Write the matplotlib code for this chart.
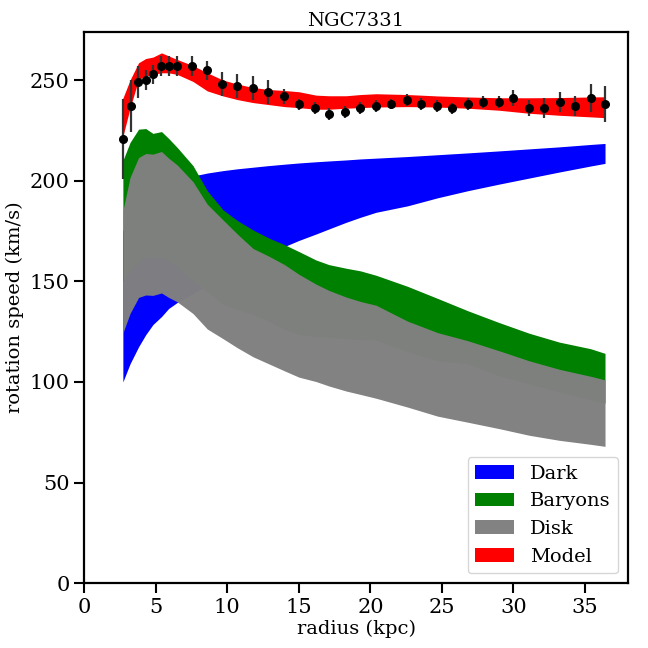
import matplotlib; matplotlib.use("Agg")
import matplotlib.pyplot as plt
import numpy as np

# observed rotation curve
r_obs = [2.74, 3.26, 3.79, 4.31, 4.84, 5.38, 5.94, 6.45, 7.56, 8.61, 9.66, 10.71,
         11.80, 12.87, 13.99, 15.04, 16.15, 17.13, 18.25, 19.27, 20.39, 21.46,
         22.58, 23.53, 24.67, 25.72, 26.84, 27.88, 29.0, 29.98, 31.1, 32.12,
         33.24, 34.31, 35.41, 36.40]
v_obs = [220.6, 237.0, 249.0, 250.0, 252.8, 256.9, 256.9, 256.9, 256.9, 254.8,
         247.9, 247.0, 245.9, 243.9, 241.9, 237.9, 236.0, 233.0, 234.2, 236.1,
         237.0, 238.1, 240.1, 238.1, 237.0, 236.0, 238.1, 239.1, 239.1, 241.1,
         236.0, 236.0, 239.1, 237.0, 241.1, 238.1]
v_err = [19.8, 13.0, 7.8, 4.8, 4.8, 5.0, 5.0, 5.0, 5.0, 4.7, 5.9, 5.8, 5.9, 5.9,
         3.8, 2.7, 3.0, 3.0, 3.1, 2.9, 2.9, 2.5, 3.0, 2.9, 2.9, 2.7, 2.9, 3.1,
         3.1, 4.0, 4.1, 5.1, 4.9, 5.1, 6.9, 9.1]

# model bands (lower / upper)
r_band = [2.7, 3.2, 3.8, 4.3, 4.8, 5.4, 5.9, 6.5, 7.6, 8.6, 9.7, 10.7, 11.8, 12.9,
          14.0, 15.0, 16.2, 17.1, 18.3, 19.3, 20.4, 22.6, 24.7, 26.8, 29.0, 31.1,
          33.2, 35.4, 36.4]
dark_lo = [100, 109, 117.5, 123.5, 128.5, 132.5, 136.5, 139.5, 144, 148, 152, 156,
           160, 163.5, 167.3, 170.3, 173.5, 176, 179.3, 181.8, 184.3, 187.5, 191.5,
           195, 198.3, 201.3, 204.3, 207.3, 208.6]
dark_hi = [175, 182, 187, 191, 194, 196.5, 198.5, 200, 202.3, 203.8, 205, 205.9,
           206.7, 207.5, 208.2, 208.8, 209.4, 209.8, 210.3, 210.8, 211.2, 212,
           212.9, 213.8, 214.8, 215.8, 216.8, 218, 218.5]
bary_lo = [150, 155, 160, 162, 162, 162, 160, 157, 150, 145, 138.5, 136, 133.5,
           130, 126, 123.5, 122.5, 122.2, 121.5, 121, 120.8, 115, 110.5, 109, 103,
           99, 95, 91, 89.5]
bary_hi = [210, 219, 225.6, 225.9, 223.5, 224.4, 221, 216.5, 207.5, 195, 185.5,
           180.2, 175.5, 171.5, 168.2, 164.8, 160.6, 158.3, 156.5, 155.2, 153,
           147.5, 141.5, 135.4, 129.5, 124.2, 119.8, 116.5, 114.2]
disk_lo = [124.3, 134, 142, 143.2, 143, 144.2, 142, 139.8, 134, 126.3, 121.5, 117,
           112.5, 109, 105.5, 102.4, 100.2, 98, 95.5, 93.8, 91.9, 87.5, 83, 80,
           76.8, 73.5, 71, 69, 68]
disk_hi = [185, 201.6, 211.5, 213.5, 213.2, 214.5, 211.2, 207.8, 199.5, 188.3,
           180.5, 173.5, 166.3, 162.5, 158.3, 153.5, 148.6, 145.5, 142.2, 140,
           138.1, 130.2, 124.5, 120.5, 115.5, 110.5, 106.3, 102.8, 101]
model_lo = [222, 236, 250.3, 252, 252.8, 253.6, 253.6, 252.8, 249.3, 244.6, 242.1,
            240.3, 238.8, 237.8, 236.8, 236.3, 235.5, 235.5, 236, 236.3, 236.6,
            236.8, 236.6, 236, 235, 233.5, 232.5, 231.7, 231.3]
model_hi = [241, 250, 258.6, 260.7, 261.4, 263.5, 262, 260.2, 257.2, 253.6, 250,
            248, 246.3, 245.3, 244.8, 244.2, 242.5, 242.2, 242.2, 242.8, 243.2,
            242.8, 242.1, 241.6, 241.2, 241.2, 241.3, 241.6, 241.7]

plt.rcParams["font.family"] = ["DejaVu Serif"]
plt.rcParams["font.size"] = 14

fig = plt.figure(figsize=(6.48, 6.48), dpi=100)
ax = fig.add_axes([0.130, 0.100, 0.839, 0.851])

ax.fill_between(r_band, dark_lo, dark_hi, color="blue", lw=0, label="Dark")
ax.fill_between(r_band, bary_lo, bary_hi, color="green", lw=0, label="Baryons")
ax.fill_between(r_band, disk_lo, disk_hi, color="gray", alpha=0.985, lw=0, label="Disk")
ax.fill_between(r_band, model_lo, model_hi, color="red", lw=0, label="Model")
ax.errorbar(r_obs, v_obs, yerr=v_err, fmt="o", color="black", ecolor="#333333",
            elinewidth=1.6, markersize=5.5)

ax.set_xlim(0, 38)
ax.set_ylim(0, 274)
ax.set_xlabel("radius (kpc)", fontsize=14, labelpad=2)
ax.set_ylabel("rotation speed (km/s)", fontsize=14)
ax.set_title("NGC7331", fontsize=14, pad=4)
ax.tick_params(labelsize=15, length=7, width=1.5)
for s in ax.spines.values():
    s.set_linewidth(1.6)
ax.legend(loc="lower right", fontsize=14)

plt.savefig("out.png", dpi=100)
plt.close()
